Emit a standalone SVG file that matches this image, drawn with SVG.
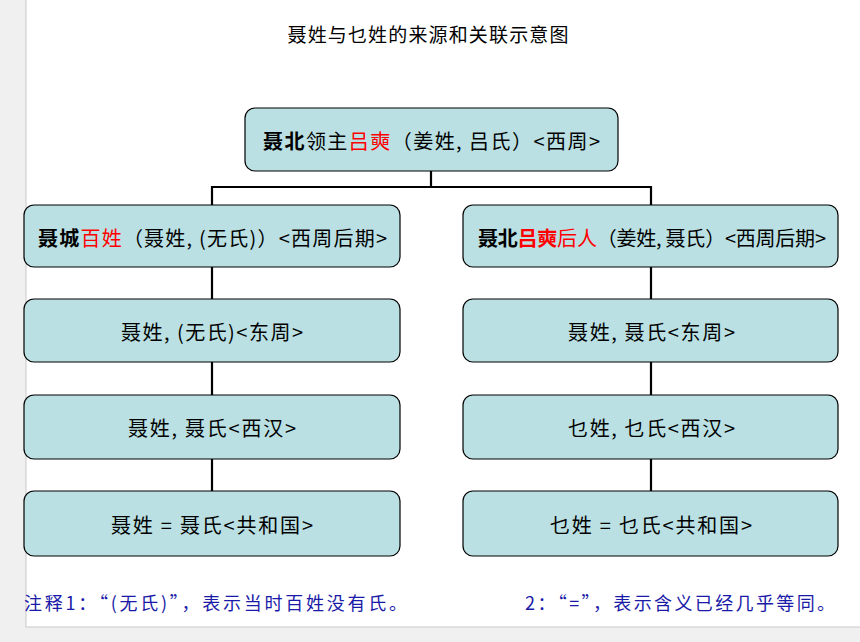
<svg xmlns="http://www.w3.org/2000/svg" width="860" height="642" viewBox="0 0 860 642">
<style>
.box{fill:#bae0e3;stroke:#000;stroke-width:1.2}
.t{font-family:"Noto Sans CJK SC","Liberation Sans",sans-serif;font-size:20px;fill:#000;text-anchor:middle;dominant-baseline:central}
.b{font-weight:bold}
.r{fill:#ff0000}
.conn{fill:none;stroke:#000;stroke-width:2.2}
.note{font-family:"Noto Sans CJK SC","Liberation Serif",serif;font-size:18px;fill:#1a1aa8}
.title{font-family:"Noto Sans CJK SC","Liberation Sans",sans-serif;font-size:19px;fill:#000;text-anchor:middle}
</style>
<rect x="0" y="0" width="860" height="642" fill="#f0f0f0"/>
<rect x="26" y="-1" width="840" height="628" fill="#fff" stroke="#c8c8c8" stroke-width="1"/>
<text class="title" x="428" y="42" textLength="281" lengthAdjust="spacing">聂姓与乜姓的来源和关联示意图</text>
<g id="connectors">
<path class="conn" d="M431,171 V187 M212,205 V187 H651 V205"/>
<path class="conn" d="M212,267 V299 M212,362 V395 M212,459 V491"/>
<path class="conn" d="M651,267 V299 M651,362 V395 M651,459 V491"/>
</g>
<g id="n0"><rect class="box" x="245" y="108" width="373" height="63" rx="10"/>
<text class="t" x="431.5" y="140" textLength="337" lengthAdjust="spacing"><tspan class="b">聂北</tspan>领主<tspan class="r">吕奭</tspan>（姜姓, 吕氏）&lt;西周&gt;</text></g>
<g id="l1"><rect class="box" x="24" y="205" width="376" height="62" rx="10"/>
<text class="t" x="212.5" y="237" textLength="349" lengthAdjust="spacing"><tspan class="b">聂城</tspan><tspan class="r">百姓</tspan>（聂姓, (无氏)）&lt;西周后期&gt;</text></g>
<g id="r1"><rect class="box" x="463" y="205" width="375" height="62" rx="10"/>
<text class="t" x="652" y="237" textLength="348" lengthAdjust="spacing"><tspan class="b">聂北</tspan><tspan class="b r">吕奭</tspan><tspan class="r">后人</tspan>（姜姓, 聂氏）&lt;西周后期&gt;</text></g>
<g id="l2"><rect class="box" x="24" y="299" width="376" height="63" rx="10"/>
<text class="t" x="212" y="331" textLength="182" lengthAdjust="spacing">聂姓, (无氏)&lt;东周&gt;</text></g>
<g id="r2"><rect class="box" x="463" y="299" width="375" height="63" rx="10"/>
<text class="t" x="651.5" y="331" textLength="167" lengthAdjust="spacing">聂姓, 聂氏&lt;东周&gt;</text></g>
<g id="l3"><rect class="box" x="24" y="395" width="376" height="64" rx="10"/>
<text class="t" x="212" y="427" textLength="168" lengthAdjust="spacing">聂姓, 聂氏&lt;西汉&gt;</text></g>
<g id="r3"><rect class="box" x="463" y="395" width="375" height="64" rx="10"/>
<text class="t" x="651.5" y="427" textLength="167" lengthAdjust="spacing">乜姓, 乜氏&lt;西汉&gt;</text></g>
<g id="l4"><rect class="box" x="24" y="491" width="376" height="65" rx="10"/>
<text class="t" x="212" y="524" textLength="202" lengthAdjust="spacing">聂姓 = 聂氏&lt;共和国&gt;</text></g>
<g id="r4"><rect class="box" x="463" y="491" width="375" height="65" rx="10"/>
<text class="t" x="651" y="524" textLength="202" lengthAdjust="spacing">乜姓 = 乜氏&lt;共和国&gt;</text></g>
<text class="note" x="24" y="610" textLength="383" lengthAdjust="spacing">注释1：“(无氏)”，表示当时百姓没有氏。</text>
<text class="note" x="525" y="610" textLength="310" lengthAdjust="spacing">2：“=”，表示含义已经几乎等同。</text>
</svg>
